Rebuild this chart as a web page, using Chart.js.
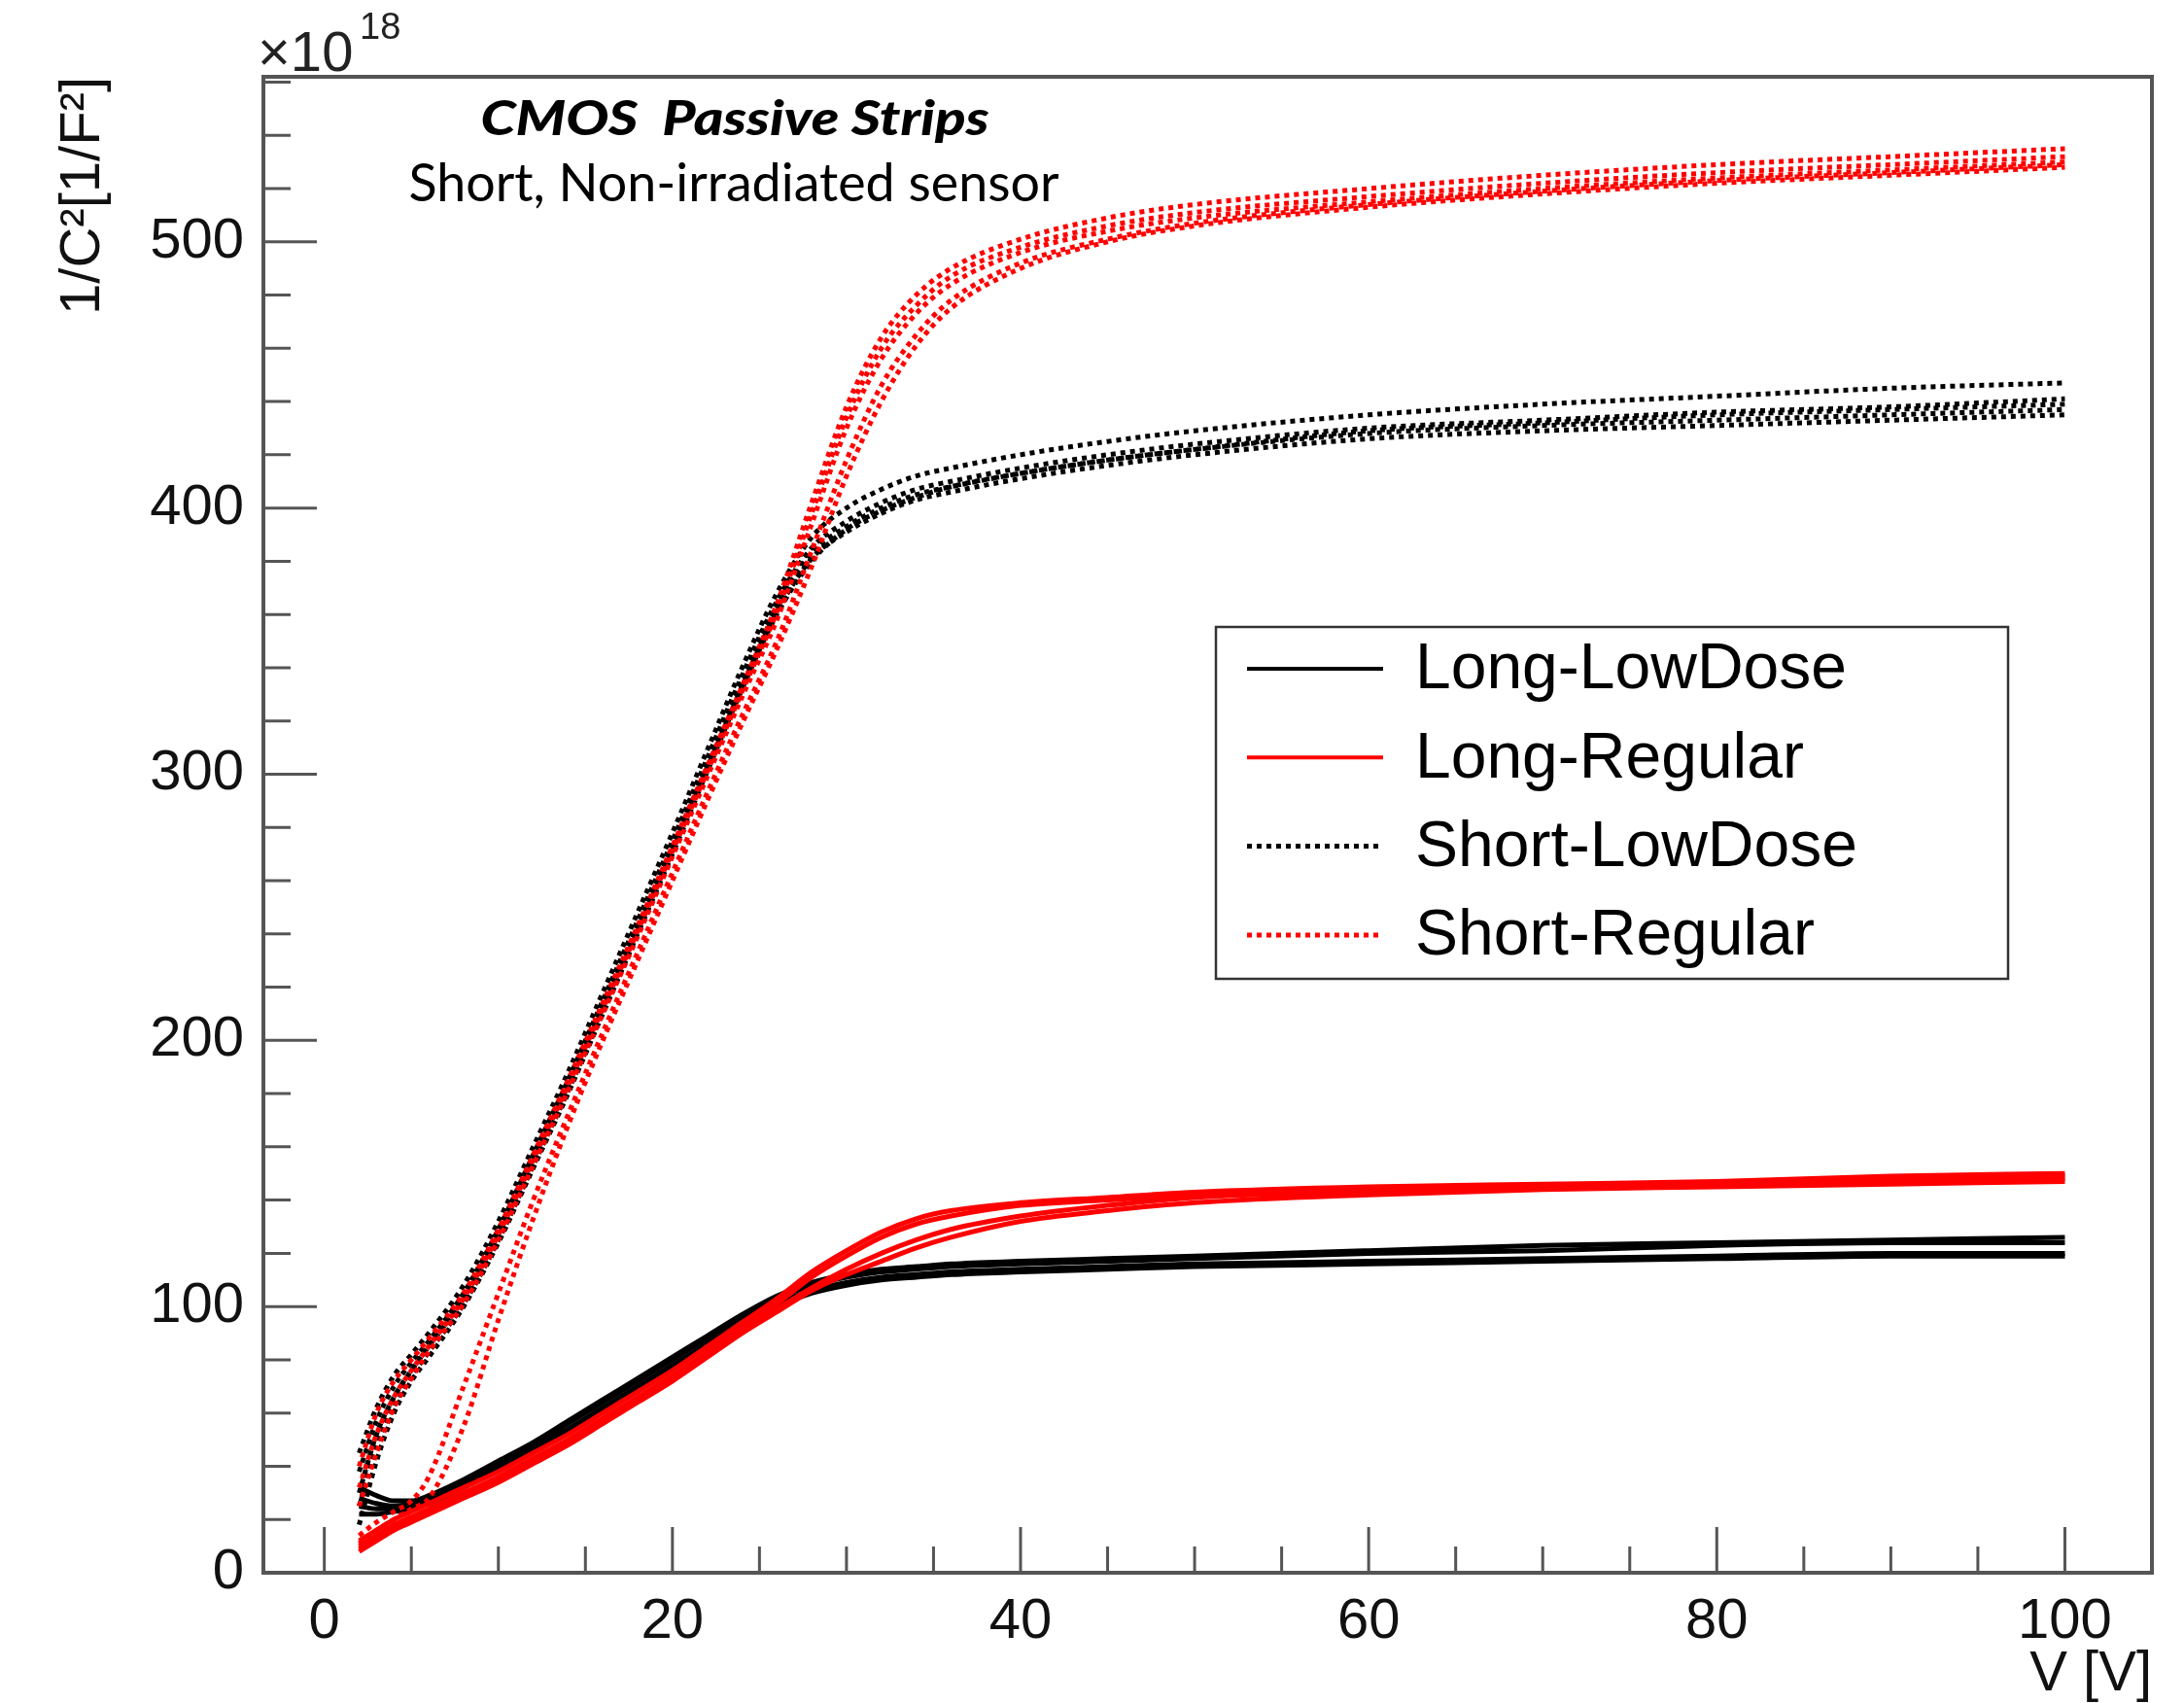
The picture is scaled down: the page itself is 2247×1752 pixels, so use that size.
<!DOCTYPE html>
<html><head><meta charset="utf-8">
<script src="https://cdn.jsdelivr.net/npm/chart.js@4.4.1/dist/chart.umd.min.js"></script>
<style>html,body{margin:0;padding:0;background:#fff}#wrap{width:2247px;height:1752px}</style>
</head><body><div id="wrap"><canvas id="c" width="2247" height="1752"></canvas></div>
<script>
// ---- data (V in volts, 1/C^2 in units of 1e18 F^-2) ----
const voltages = [2,3,4,5,6,8,10,12,14,16,18,20,22,24,26,28,30,32,34,36,40,45,50,60,70,80,90,100];

const longLowDose = [
  [32,29,27,27,29,35,42,49,57,65,73,81,89,97,104,109,112,114,115,116,117,118,119,121,123,124,125,126],
  [28,26,25,26,28,34,41,48,56,64,72,80,88,96,103,108,111,113,114,115,116,117,118,120,121,123,124,124],
  [25,24,24,25,27,33,40,47,54,62,70,78,86,94,101,106,109,111,112,113,114,115,116,117,118,119,120,120],
  [22,22,23,24,26,32,39,46,53,61,69,77,85,93,100,105,108,110,111,112,113,114,115,116,117,118,119,119]
];
const longRegular = [
  [12,16,20,23,26,32,38,45,52,60,68,76,85,94,103,113,121,128,133,136,139,141,143,145,146,147,149,150],
  [10,14,18,21,24,30,36,43,50,58,66,74,83,92,101,111,119,126,131,134,138,140,142,144,145,146,148,149],
  [9,13,17,20,23,29,35,42,49,57,65,73,82,91,99,107,114,120,125,129,134,138,141,143,145,146,147,148],
  [8,12,16,19,22,28,34,41,48,56,64,72,81,90,98,106,112,117,122,126,132,136,139,142,144,145,146,147]
];
const shortLowDose = [
  [45,62,74,82,90,108,132,160,188,218,248,278,309,340,368,389,400,407,412,415,420,425,429,435,439,442,445,447],
  [38,57,70,79,87,105,129,157,185,215,245,275,306,337,365,385,395,402,407,410,415,420,424,430,433,436,438,441],
  [30,52,66,76,85,103,127,155,183,213,243,273,304,335,363,383,393,400,405,408,413,418,422,428,431,433,435,437],
  [25,48,63,74,83,101,125,153,181,211,241,271,302,333,361,381,391,398,403,406,411,416,420,426,429,431,433,435],
  [18,42,60,72,81,100,124,152,180,210,240,270,301,332,360,380,392,399,404,408,413,418,422,429,432,435,437,439]
];
const shortRegular = [
  [40,60,72,80,88,105,129,157,185,214,243,273,303,333,364,402,438,464,480,490,501,509,514,520,525,529,532,535],
  [32,52,66,76,85,103,127,155,183,212,241,271,301,331,361,398,434,460,476,487,498,506,511,517,522,526,529,532],
  [25,45,62,73,83,101,125,153,181,210,239,269,299,329,358,394,430,456,473,484,496,504,509,515,520,524,527,530],
  [14,19,23,27,36,70,105,140,172,203,233,263,293,322,350,384,418,446,465,478,492,501,507,514,519,523,526,529],
  [11,16,20,24,28,55,95,133,168,200,230,260,290,319,347,378,412,440,461,475,490,500,506,513,518,522,525,528]
];

const groupNames = ['Long-LowDose','Long-Regular','Short-LowDose','Short-Regular'];
const groupCurves = [longLowDose, longRegular, shortLowDose, shortRegular];

const xTickValues = [0,20,40,60,80,100];
const yTickValues = [0,100,200,300,400,500];
const xMinorTicks = [0,5,10,15,20,25,30,35,40,45,50,55,60,65,70,75,80,85,90,95,100];
const yMinorTicks = [0,20,40,60,80,100,120,140,160,180,200,220,240,260,280,300,320,340,360,380,400,420,440,460,480,500,520,540,560];

const titleText = 'CMOS  Passive Strips';
const subtitleText = 'Short, Non-irradiated sensor';
const xAxisTitle = 'V [V]';
const yAxisTitle = '1/C\u00B2[1/F\u00B2]';

// ---- styles ----
const groupColor = ['#000000','#ff0000','#000000','#ff0000'];
const groupDash = [[],[],[5,5],[5,5]];
const groupWidth = [5,5,5,5];
const legendWidth = [4,4,5,5];
const groupOrder = [3,1,2,0];

const datasets = [];
groupCurves.forEach((curves, g) => {
  curves.forEach((vals) => {
    datasets.push({
      label: groupNames[g],
      data: voltages.map((v, i) => ({x: v, y: vals[i]})),
      borderColor: groupColor[g],
      borderWidth: groupWidth[g],
      borderDash: groupDash[g],
      borderCapStyle: 'butt',
      pointRadius: 0,
      fill: false,
      cubicInterpolationMode: 'monotone',
      order: groupOrder[g]
    });
  });
});

const rootStyle = {
  id: 'rootStyle',
  afterDraw(chart) {
    const ctx = chart.ctx, ca = chart.chartArea;
    const xs = chart.scales.x, ys = chart.scales.y;
    ctx.save();
    // ticks inside frame
    ctx.strokeStyle = '#555'; ctx.lineWidth = 3;
    ctx.beginPath();
    xMinorTicks.forEach(v => {
      const px = xs.getPixelForValue(v);
      const len = xTickValues.includes(v) ? 47 : 27;
      ctx.moveTo(px, ca.bottom); ctx.lineTo(px, ca.bottom - len);
    });
    yMinorTicks.forEach(v => {
      const py = ys.getPixelForValue(v);
      const len = yTickValues.includes(v) ? 55 : 28;
      ctx.moveTo(ca.left, py); ctx.lineTo(ca.left + len, py);
    });
    ctx.stroke();
    // frame
    ctx.lineWidth = 4; ctx.strokeStyle = '#555';
    ctx.strokeRect(ca.left, ca.top, ca.right - ca.left, ca.bottom - ca.top);

    // exponent
    ctx.fillStyle = '#222';
    ctx.textBaseline = 'alphabetic'; ctx.textAlign = 'left';
    ctx.font = '58px "Liberation Sans"';
    ctx.fillText('\u00D710', 265, 73);
    ctx.font = '38px "Liberation Sans"';
    ctx.fillText('18', 370, 40);

    // title
    ctx.fillStyle = '#000';
    ctx.font = 'italic 900 50px Lato';
    let w = ctx.measureText(titleText).width;
    ctx.save(); ctx.translate(756, 139); ctx.scale(523 / w, 1);
    ctx.textAlign = 'center'; ctx.fillText(titleText, 0, 0); ctx.restore();
    ctx.font = '54px Lato';
    w = ctx.measureText(subtitleText).width;
    ctx.save(); ctx.translate(755, 207); ctx.scale(669 / w, 1);
    ctx.textAlign = 'center'; ctx.fillText(subtitleText, 0, 0); ctx.restore();

    // legend
    const bx = 1251, by = 645, bw = 815, bh = 362;
    ctx.fillStyle = '#fff'; ctx.fillRect(bx, by, bw, bh);
    ctx.strokeStyle = '#333'; ctx.lineWidth = 2.5; ctx.strokeRect(bx, by, bw, bh);
    groupNames.forEach((name, i) => {
      const y = 688 + i * 91.3;
      ctx.beginPath();
      ctx.strokeStyle = groupColor[i]; ctx.lineWidth = legendWidth[i];
      ctx.setLineDash(groupDash[i]); ctx.lineCap = 'butt';
      ctx.moveTo(1283, y); ctx.lineTo(1423, y); ctx.stroke();
      ctx.setLineDash([]);
      ctx.fillStyle = '#000'; ctx.font = '66px "Liberation Sans"';
      ctx.textAlign = 'left'; ctx.textBaseline = 'middle';
      ctx.fillText(name, 1456, y + 2);
    });
    ctx.restore();
  }
};

new Chart(document.getElementById('c'), {
  type: 'line',
  data: { datasets },
  options: {
    responsive: false, animation: false, devicePixelRatio: 1,
    layout: { padding: { top: 79, right: 33, left: 0, bottom: 0 } },
    plugins: { legend: { display: false }, tooltip: { enabled: false }, title: {display:false} },
    scales: {
      x: {
        type: 'linear', min: -3.5, max: 105,
        afterBuildTicks: s => { s.ticks = xTickValues.map(v => ({ value: v })); },
        afterFit: s => { s.height = 134; },
        grid: { display: false, drawTicks: false }, border: { display: false },
        ticks: { font: { family: 'Liberation Sans', size: 58 }, color: '#111', padding: 16, maxRotation: 0, autoSkip: false },
        title: { display: true, text: xAxisTitle, align: 'end', color: '#111',
                 font: { family: 'Liberation Sans', size: 58, lineHeight: 1 }, padding: 0 }
      },
      y: {
        type: 'linear', min: 0, max: 562,
        afterBuildTicks: s => { s.ticks = yTickValues.map(v => ({ value: v })); },
        afterFit: s => { s.width = 271; },
        grid: { display: false, drawTicks: false }, border: { display: false },
        ticks: { font: { family: 'Liberation Sans', size: 58 }, color: '#111', padding: 20, autoSkip: false },
        title: { display: true, text: yAxisTitle, align: 'end', color: '#111',
                 font: { family: 'Liberation Sans', size: 58, lineHeight: 1 }, padding: { top: 57, bottom: 0 } }
      }
    }
  },
  plugins: [rootStyle]
});
</script></body></html>
